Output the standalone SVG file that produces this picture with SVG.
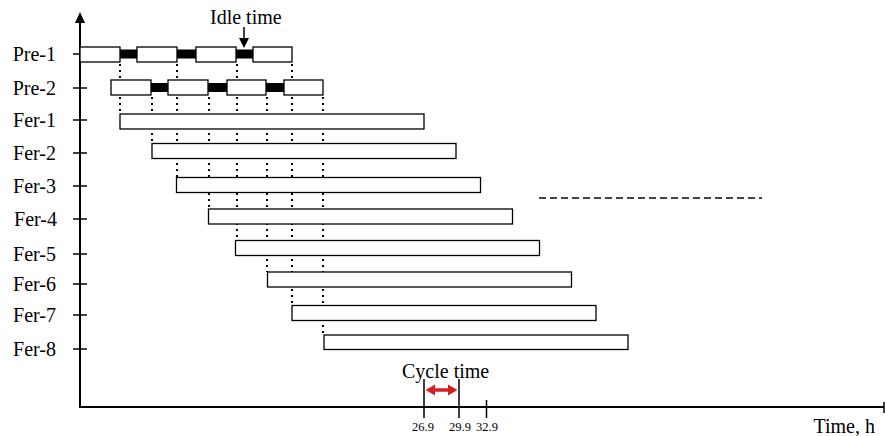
<svg xmlns="http://www.w3.org/2000/svg" width="885" height="436" viewBox="0 0 885 436">
  <style>
    .lbl { font-family: "Liberation Serif", "Times New Roman", serif; font-size: 20px; fill: #000; }
    .num { font-family: "Liberation Serif", "Times New Roman", serif; font-size: 12.5px; fill: #000; text-anchor: middle; }
    .axis { stroke: #000; stroke-width: 2; fill: none; }
    .tick { stroke: #000; stroke-width: 1.5; fill: none; }
    .box { fill: #fff; stroke: #000; stroke-width: 1.3; }
    .idle { fill: #000; stroke: none; }
    .dot { stroke: #000; stroke-width: 2; stroke-dasharray: 2 4; fill: none; }
    .dash { stroke: #444; stroke-width: 2; stroke-dasharray: 7 4; fill: none; }
  </style>
  <rect width="885" height="436" fill="#fff"/>

  <!-- axes -->
  <g id="axes">
    <line class="axis" x1="80" y1="20" x2="80" y2="408"/>
    <path d="M75,23 L80,12 L85,23 z" fill="#000"/>
    <line class="axis" x1="80" y1="407" x2="884" y2="407"/>
    <line class="tick" x1="884" y1="402" x2="884" y2="413"/>
    <g class="tick">
      <line x1="73" y1="54" x2="87" y2="54"/>
      <line x1="73" y1="88" x2="87" y2="88"/>
      <line x1="73" y1="120" x2="87" y2="120"/>
      <line x1="73" y1="153" x2="87" y2="153"/>
      <line x1="73" y1="186" x2="87" y2="186"/>
      <line x1="73" y1="219" x2="87" y2="219"/>
      <line x1="73" y1="254" x2="87" y2="254"/>
      <line x1="73" y1="284" x2="87" y2="284"/>
      <line x1="73" y1="315" x2="87" y2="315"/>
      <line x1="73" y1="349" x2="87" y2="349"/>
    </g>
    <text class="lbl" x="875" y="433" text-anchor="end">Time, h</text>
  </g>

  <!-- row labels -->
  <g id="labels" class="lbl" text-anchor="end">
    <text x="56" y="61">Pre-1</text>
    <text x="56" y="95">Pre-2</text>
    <text x="56" y="127">Fer-1</text>
    <text x="56" y="160">Fer-2</text>
    <text x="56" y="193">Fer-3</text>
    <text x="57" y="226">Fer-4</text>
    <text x="56" y="261">Fer-5</text>
    <text x="56" y="291">Fer-6</text>
    <text x="56" y="322">Fer-7</text>
    <text x="56" y="356">Fer-8</text>
  </g>

  <!-- connectors: dotted hand-over lines -->
  <g id="connectors">
    <line class="dot" x1="120" y1="64" x2="120" y2="80"/>
    <line class="dot" x1="177" y1="64" x2="177" y2="80"/>
    <line class="dot" x1="237" y1="64" x2="237" y2="80"/>
    <line class="dot" x1="292" y1="64" x2="292" y2="80"/>

    <line class="dot" x1="120" y1="97" x2="120" y2="114"/>
    <line class="dot" x1="152" y1="97" x2="152" y2="143"/>
    <line class="dot" x1="177" y1="97" x2="177" y2="178"/>
    <line class="dot" x1="209" y1="97" x2="209" y2="209"/>
    <line class="dot" x1="237" y1="97" x2="237" y2="240"/>
    <line class="dot" x1="267" y1="97" x2="267" y2="272"/>
    <line class="dot" x1="292" y1="97" x2="292" y2="305"/>
    <line class="dot" x1="323" y1="97" x2="323" y2="335"/>

    <line class="dash" x1="539" y1="198" x2="762" y2="198"/>
  </g>

  <!-- pre-culture 1 -->
  <g id="pre1">
    <rect class="idle" x="120" y="49.5" width="17" height="9"/>
    <rect class="idle" x="177" y="49.5" width="19" height="9"/>
    <rect class="idle" x="236" y="49.5" width="17" height="9"/>
    <rect class="box" x="80" y="47" width="40" height="15"/>
    <rect class="box" x="137" y="47" width="40" height="15"/>
    <rect class="box" x="196" y="47" width="40" height="15"/>
    <rect class="box" x="253" y="47" width="39" height="15"/>
  </g>

  <!-- pre-culture 2 -->
  <g id="pre2">
    <rect class="idle" x="151" y="83" width="17" height="9"/>
    <rect class="idle" x="208" y="83" width="19" height="9"/>
    <rect class="idle" x="266" y="83" width="18" height="9"/>
    <rect class="box" x="111" y="80" width="40" height="15"/>
    <rect class="box" x="168" y="80" width="40" height="15"/>
    <rect class="box" x="227" y="80" width="39" height="15"/>
    <rect class="box" x="284" y="80" width="39" height="15"/>
  </g>

  <!-- fermenters -->
  <g id="fer1"><rect class="box" x="120" y="114" width="304" height="15"/></g>
  <g id="fer2"><rect class="box" x="152" y="143.5" width="304" height="15"/></g>
  <g id="fer3"><rect class="box" x="176.5" y="177.5" width="304" height="15"/></g>
  <g id="fer4"><rect class="box" x="208.5" y="209" width="304" height="15"/></g>
  <g id="fer5"><rect class="box" x="235.5" y="240.5" width="304" height="15"/></g>
  <g id="fer6"><rect class="box" x="267.5" y="272" width="304" height="15"/></g>
  <g id="fer7"><rect class="box" x="292" y="305.5" width="304" height="15"/></g>
  <g id="fer8"><rect class="box" x="324" y="335" width="304" height="14.5"/></g>

  <!-- idle time annotation -->
  <g id="idle-time">
    <text class="lbl" x="210" y="24">Idle time</text>
    <line x1="244" y1="27" x2="244" y2="40" stroke="#000" stroke-width="1.5"/>
    <path d="M239,38 L249,38 L244,48 z" fill="#000"/>
  </g>

  <!-- cycle time annotation -->
  <g id="cycle-time">
    <text class="lbl" x="402" y="378">Cycle time</text>
    <line class="tick" x1="424" y1="379" x2="424" y2="418"/>
    <line class="tick" x1="459" y1="379" x2="459" y2="418"/>
    <line class="tick" x1="486.5" y1="400" x2="486.5" y2="418"/>
    <line x1="433" y1="390" x2="450" y2="390" stroke="#d42020" stroke-width="3.5"/>
    <path d="M425.5,390 L435,384.5 L435,395.5 z" fill="#d42020"/>
    <path d="M457.5,390 L448,384.5 L448,395.5 z" fill="#d42020"/>
    <text class="num" x="423" y="431">26.9</text>
    <text class="num" x="460" y="431">29.9</text>
    <text class="num" x="487" y="431">32.9</text>
  </g>
</svg>
